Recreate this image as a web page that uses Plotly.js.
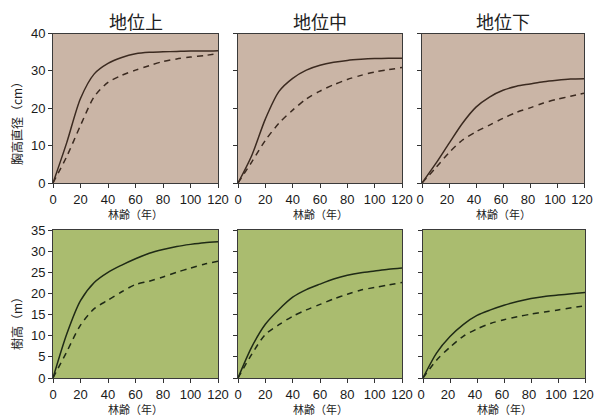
<!DOCTYPE html>
<html>
<head>
<meta charset="utf-8">
<script src="https://cdn.plot.ly/plotly-3.0.1.min.js"></script>
<style>html,body{margin:0;padding:0;background:#fff}#chart{width:595px;height:419px}</style>
</head>
<body>
<div id="chart"></div>
<script>
// Data
const ages = [0, 10, 20, 30, 40, 50, 60, 70, 80, 90, 100, 110, 120];
const panelTitles = ["地位上", "地位中", "地位下"];
const xTickVals = [0, 20, 40, 60, 80, 100, 120];
const xTitle = "林齢（年）";
const yTitleTop = "胸高直径（cm）";
const yTitleBottom = "樹高（m）";

// 胸高直径 (cm): solid / dashed
const dbhSolidHigh = [0, 10.8, 22.6, 29.2, 32.0, 33.6, 34.6, 35.0, 35.1, 35.2, 35.3, 35.3, 35.4];
const dbhDashHigh  = [0, 7.1, 15.4, 23.1, 26.9, 28.8, 30.2, 31.4, 32.5, 33.2, 33.7, 34.1, 34.6];
const dbhSolidMid  = [0, 7.3, 17.1, 24.5, 28.0, 30.2, 31.5, 32.3, 32.8, 33.1, 33.3, 33.4, 33.4];
const dbhDashMid   = [0, 5.6, 11.4, 16.0, 19.5, 22.5, 24.6, 26.3, 27.7, 28.8, 29.7, 30.3, 30.9];
const dbhSolidLow  = [0, 5.1, 10.6, 16.0, 20.3, 23.0, 24.8, 25.9, 26.5, 27.1, 27.5, 27.8, 27.9];
const dbhDashLow   = [0, 4.0, 8.1, 11.5, 13.7, 15.5, 17.3, 18.9, 20.1, 21.4, 22.4, 23.2, 24.0];

// 樹高 (m): solid / dashed
const htSolidHigh = [0, 10.4, 18.3, 22.6, 25.0, 26.7, 28.2, 29.5, 30.4, 31.1, 31.6, 32.0, 32.2];
const htDashHigh  = [0, 6.2, 12.5, 16.4, 18.4, 20.4, 22.1, 22.9, 23.9, 25.0, 26.0, 26.9, 27.6];
const htSolidMid  = [0, 7.3, 12.7, 16.2, 19.1, 20.9, 22.2, 23.4, 24.3, 24.9, 25.3, 25.7, 26.0];
const htDashMid   = [0, 5.6, 10.3, 12.6, 14.6, 16.1, 17.4, 18.7, 19.8, 20.8, 21.4, 22.0, 22.6];
const htSolidLow  = [0, 5.9, 9.8, 12.7, 14.8, 16.1, 17.2, 18.1, 18.8, 19.3, 19.6, 19.9, 20.2];
const htDashLow   = [0, 4.2, 7.3, 9.9, 11.6, 12.9, 13.8, 14.5, 15.1, 15.6, 16.1, 16.6, 17.1];

const topSeries = [[dbhSolidHigh, dbhDashHigh], [dbhSolidMid, dbhDashMid], [dbhSolidLow, dbhDashLow]];
const botSeries = [[htSolidHigh, htDashHigh], [htSolidMid, htDashMid], [htSolidLow, htDashLow]];

const W = 595, H = 419;
const topX = [[53, 218], [238, 402], [422, 584]];
const botX = [[53, 218], [238, 402], [423, 585]];
const topY = [33.5, 183];
const botY = [230, 378];

const tickFont = {family: "Liberation Sans, Arial, sans-serif", size: 13, color: "#1a1a1a"};
const cjk = "Noto Sans CJK JP, sans-serif";

const traces = [];
const layout = {
  width: W, height: H,
  margin: {l: 0, r: 0, t: 0, b: 0},
  paper_bgcolor: "#ffffff",
  showlegend: false,
  annotations: [],
  shapes: []
};

function addPanel(idx, col, xr, yr, series, yMax, yDtick, bg, lineCol, showY) {
  const n = idx + 1;
  const xa = n === 1 ? "x" : "x" + n;
  const ya = n === 1 ? "y" : "y" + n;
  const xkey = n === 1 ? "xaxis" : "xaxis" + n;
  const ykey = n === 1 ? "yaxis" : "yaxis" + n;
  layout[xkey] = {
    domain: [xr[0] / W, xr[1] / W], anchor: ya, range: [0, 120],
    tickvals: xTickVals, ticks: "outside", ticklen: 4, tickwidth: 1, tickcolor: "#333",
    ticklabeloverflow: "allow", ticklabelshift: col === 2 ? -2 : 0,
    showline: true, linecolor: "#3a3a3a", linewidth: 1, mirror: true,
    showgrid: false, zeroline: false, tickfont: tickFont
  };
  layout[ykey] = {
    domain: [1 - yr[1] / H, 1 - yr[0] / H], anchor: xa, range: [0, yMax],
    dtick: yDtick, ticks: "outside", ticklen: 4, tickwidth: 1, tickcolor: "#333",
    showticklabels: showY, ticklabeloverflow: "allow",
    showline: true, linecolor: "#3a3a3a", linewidth: 1, mirror: true,
    showgrid: false, zeroline: false, tickfont: tickFont
  };
  layout.shapes.push({type: "rect", xref: xa + " domain", yref: ya + " domain",
    x0: 0, x1: 1, y0: 0, y1: 1, fillcolor: bg, line: {width: 0}, layer: "below"});
  traces.push({x: ages, y: series[0], xaxis: xa, yaxis: ya, mode: "lines",
    line: {color: lineCol, width: 1.5, shape: "spline", smoothing: 0.8}, hoverinfo: "skip"});
  traces.push({x: ages, y: series[1], xaxis: xa, yaxis: ya, mode: "lines",
    line: {color: lineCol, width: 1.5, dash: "6px,5px", shape: "spline", smoothing: 0.8}, hoverinfo: "skip"});
  // x-axis title placed just below the tick labels
  layout.annotations.push({
    text: xTitle, xref: "paper", yref: "paper",
    x: (xr[0] + xr[1]) / 2 / W, y: 1 - (yr[1] + 31) / H, xanchor: "center", yanchor: "middle",
    showarrow: false, font: {family: cjk, size: 11, color: "#222"}
  });
}

for (let i = 0; i < 3; i++) {
  addPanel(i, i, topX[i], topY, topSeries[i], 40, 10, "#cab5a6", "#3b2a20", i === 0);
  addPanel(i + 3, i, botX[i], botY, botSeries[i], 35, 5, "#aabc6f", "#1f2a16", i === 0);
  layout.annotations.push({
    text: panelTitles[i], xref: "paper", yref: "paper",
    x: (topX[i][0] + topX[i][1]) / 2 / W, y: 1 - 21 / H, xanchor: "center", yanchor: "middle",
    showarrow: false, font: {family: cjk, size: 18, color: "#222"}
  });
}
layout.annotations.push({
  text: yTitleTop, xref: "paper", yref: "paper", x: 16 / W, y: 1 - 121 / H,
  xanchor: "center", yanchor: "middle", textangle: -90, showarrow: false,
  font: {family: cjk, size: 12, color: "#222"}
});
layout.annotations.push({
  text: yTitleBottom, xref: "paper", yref: "paper", x: 16 / W, y: 1 - 321 / H,
  xanchor: "center", yanchor: "middle", textangle: -90, showarrow: false,
  font: {family: cjk, size: 12, color: "#222"}
});

Plotly.newPlot("chart", traces, layout, {staticPlot: true, displayModeBar: false});
</script>
</body>
</html>
